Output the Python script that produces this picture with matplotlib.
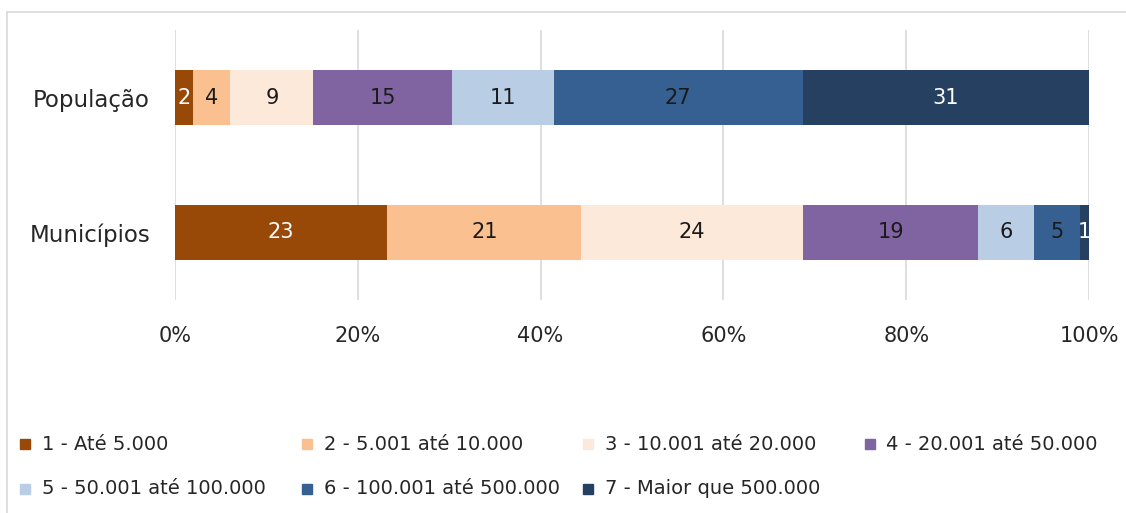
import matplotlib.pyplot as plt
import numpy as np
from matplotlib.lines import Line2D
from matplotlib.patches import Rectangle

plt.rcParams["font.family"] = ["DejaVu Sans"]

categories = ["Municípios", "População"]
classes = [
    "1 - Até 5.000",
    "2 - 5.001 até 10.000",
    "3 - 10.001 até 20.000",
    "4 - 20.001 até 50.000",
    "5 - 50.001 até 100.000",
    "6 - 100.001 até 500.000",
    "7 - Maior que 500.000",
]
municipios = [23, 21, 24, 19, 6, 5, 1]
populacao = [2, 4, 9, 15, 11, 27, 31]
colors = ["#984807", "#fac090", "#fde9d9", "#8064a2", "#b9cde5", "#376092", "#254061"]
text_colors = ["white", "#1a1a1a", "#1a1a1a", "#1a1a1a", "#1a1a1a", "#1a1a1a", "white"]
xticks = [0, 0.2, 0.4, 0.6, 0.8, 1.0]
xticklabels = ["0%", "20%", "40%", "60%", "80%", "100%"]

data = np.array([municipios, populacao], dtype=float)
shares = data / data.sum(axis=1, keepdims=True)

W, H = 1126, 513
fig = plt.figure(figsize=(W / 100, H / 100), dpi=100)
ax = fig.add_axes([175 / W, 1 - 300 / H, (1089 - 175) / W, 270 / H])

# outer chart border (only top and left visible in the crop)
fig.add_artist(Line2D([7 / W, 1.0], [1 - 12 / H] * 2, color="#d9d9d9", lw=1.2,
                      transform=fig.transFigure))
fig.add_artist(Line2D([7 / W] * 2, [0, 1 - 12 / H], color="#d9d9d9", lw=1.2,
                      transform=fig.transFigure))

y = np.arange(len(categories))
left = np.zeros(len(categories))
for k in range(len(classes)):
    ax.barh(y, shares[:, k], left=left, height=0.41, color=colors[k], label=classes[k], zorder=3)
    for i in range(len(categories)):
        ax.text(left[i] + shares[i, k] / 2, y[i], f"{int(data[i, k])}", ha="center", va="center",
                fontsize=15, color=text_colors[k], zorder=4)
    left += shares[:, k]

ax.set_xlim(0, 1)
ax.set_ylim(-0.5, 1.5)
ax.set_yticks(y)
ax.set_yticklabels(categories, fontsize=16.5, color="#262626")
ax.set_xticks(xticks)
ax.set_xticklabels(xticklabels, fontsize=15, color="#262626")
ax.tick_params(length=0)
ax.tick_params(axis="x", pad=19)
ax.tick_params(axis="y", pad=18)
ax.grid(axis="x", color="#d9d9d9", lw=1.2, zorder=0)
for s in ax.spines.values():
    s.set_visible(False)

# legend laid out like the spreadsheet one: 4 equal columns, row-major
col_pitch = 281.5
for i, name in enumerate(classes):
    row, col = divmod(i, 4)
    x0 = 20 + col * col_pitch
    yc = 444 + row * 45
    fig.add_artist(Rectangle((x0 / W, 1 - (yc + 5) / H), 10 / W, 10 / H,
                             transform=fig.transFigure, color=colors[i]))
    fig.text((x0 + 22) / W, 1 - yc / H, name, ha="left", va="center",
             fontsize=14, color="#262626")

fig.savefig("out.png", dpi=100)
